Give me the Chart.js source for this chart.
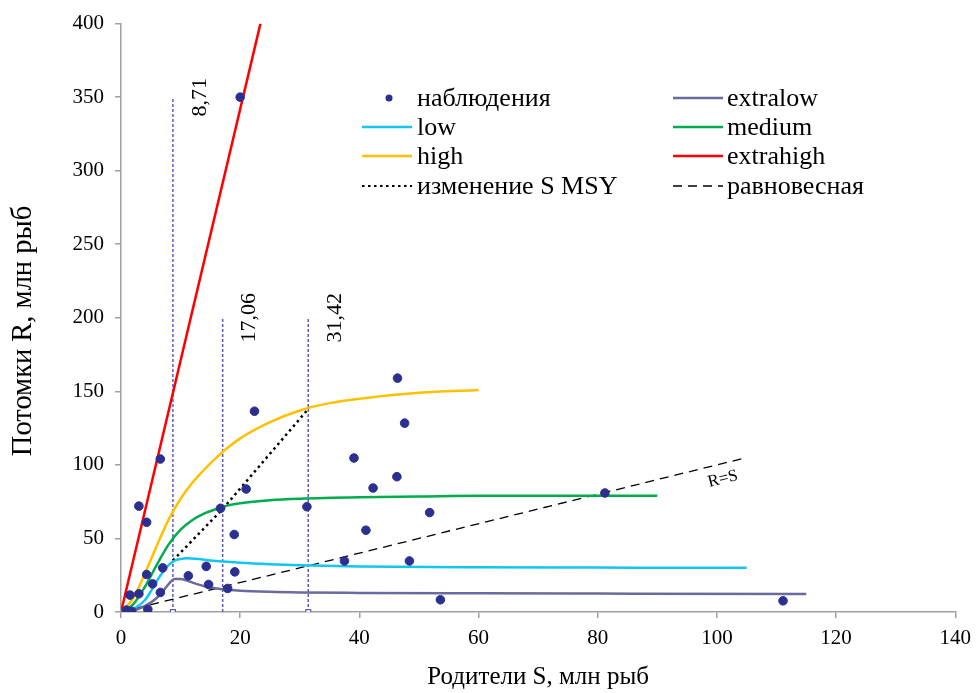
<!DOCTYPE html>
<html>
<head>
<meta charset="utf-8">
<script src="https://cdn.jsdelivr.net/npm/chart.js@4.4.0/dist/chart.umd.min.js"></script>
<style>
  html, body { margin: 0; padding: 0; background: #fff; }
  #wrap { width: 979px; height: 693px; position: relative; }
</style>
</head>
<body>
<div id="wrap"><canvas id="chart"></canvas></div>
<script>
// observations
const obsS = [20.0, 22.4, 6.6, 3.0, 4.3, 21.0, 16.7, 19.0, 4.3, 7.0, 5.3, 14.3, 11.3, 19.1, 14.7, 17.9, 6.6, 1.5, 3.0, 4.5, 0.9, 1.8,
  46.4, 47.6, 39.1, 46.3, 42.3, 31.2, 51.8, 41.1, 37.5, 48.4, 53.6, 81.2, 111.1];
const obsR = [350, 136.5, 104, 72, 61, 83.6, 70.5, 52.7, 25.5, 30, 19.1, 31, 24.6, 27.3, 18.7, 16, 13.3, 11.5, 12.4, 1.8, 1.3, 0.5,
  159, 128.4, 104.7, 92, 84.3, 71.6, 67.6, 55.6, 34.7, 34.7, 8.3, 80.9, 7.6];

// stock-recruitment curves
const extralowS = [0, 2, 4, 6, 7, 8, 9, 10, 11, 12, 14, 17, 20, 25, 30, 40, 60, 80, 115];
const extralowR = [0, 1, 4, 9.5, 14, 19, 22.5, 22.5, 21.5, 20, 17.5, 15.5, 14.5, 13.7, 13.3, 13, 12.7, 12.5, 12.2];
const lowS = [0, 2, 4, 5, 6, 7, 8, 9, 10, 11, 13, 15, 20, 25, 30, 40, 60, 80, 105];
const lowR = [0, 2, 8, 14, 21, 27, 32, 35, 36, 36.5, 36, 35, 33.5, 32.5, 31.8, 31, 30.4, 30.2, 30];
const mediumS = [0, 2, 4, 6, 8, 10, 12, 14, 16, 18, 20, 25, 30, 40, 50, 60, 70, 90];
const mediumR = [0, 5, 17, 32, 46, 56, 62.5, 67, 70, 72.5, 74, 76, 77, 78, 78.5, 79, 79, 79];
const highS = [0, 2, 4, 6, 8, 10, 12, 14, 16, 18, 20, 25, 30, 35, 40, 50, 60];
const highR = [0, 9, 26, 45, 63, 77, 88, 97, 105, 112, 118, 129, 137, 142, 145, 149, 151];
const extrahighS = [0, 23.4];
const extrahighR = [0, 400];

// S MSY
const msyS = [8.71, 17.06, 31.42];
const msyR = [35, 70, 138];
const msyTop = [350, 200, 200];
const msyLabels = ['8,71', '17,06', '31,42'];

// equilibrium R = S
const eqS = [0, 105];
const eqR = [0, 105];

const xTicks = [0, 20, 40, 60, 80, 100, 120, 140];
const yTicks = [0, 50, 100, 150, 200, 250, 300, 350, 400];

const pts = (xs, ys) => xs.map((x, i) => ({ x: x, y: ys[i] }));
const serif = "'Liberation Serif', 'Times New Roman', serif";

function curve(label, xs, ys, color, extra) {
  return Object.assign({
    label: label, data: pts(xs, ys), showLine: true, borderColor: color, backgroundColor: color,
    borderWidth: 2.5, pointRadius: 0, cubicInterpolationMode: 'monotone'
  }, extra || {});
}

const datasets = [
  { label: 'наблюдения', data: pts(obsS, obsR), backgroundColor: '#2b2f8f', borderColor: '#2b2f8f', pointRadius: 4.3, showLine: false },
  curve('extralow', extralowS, extralowR, '#6a6a9c'),
  curve('low', lowS, lowR, '#12c6f0'),
  curve('medium', mediumS, mediumR, '#00ad4c'),
  curve('high', highS, highR, '#ffc000'),
  curve('extrahigh', extrahighS, extrahighR, '#ff0000', { cubicInterpolationMode: 'default', tension: 0 }),
  curve('изменение S MSY', msyS, msyR, '#000', { cubicInterpolationMode: 'default', tension: 0, borderDash: [2.5, 3.5] }),
  curve('равновесная', eqS, eqR, '#000', { cubicInterpolationMode: 'default', tension: 0, borderWidth: 1.3, borderDash: [9, 6] })
];
msyS.forEach((s, i) => {
  datasets.push({
    label: 'msy' + i, data: [{ x: s, y: 0 }, { x: s, y: msyTop[i] }], showLine: true,
    borderColor: '#5b5bbb', borderWidth: 1.5, borderDash: [3, 2],
    pointRadius: i === 1 ? [0, 0] : [3.5, 0], pointStyle: 'rect', pointBackgroundColor: '#fff', pointBorderColor: '#5b5bbb', pointBorderWidth: 1.2
  });
});

const legendOrder = [0, 1, 2, 3, 4, 5, 6, 7];

const extrasPlugin = {
  id: 'extras',
  afterDatasetsDraw(chart) {
    const ctx = chart.ctx;
    const xs = chart.scales.x, ys = chart.scales.y;
    ctx.save();
    ctx.fillStyle = '#000';
    ctx.font = '22px ' + serif;
    ctx.textAlign = 'center';
    ctx.textBaseline = 'middle';
    msyS.forEach((s, i) => {
      ctx.save();
      ctx.translate(xs.getPixelForValue(s) + 27, ys.getPixelForValue(msyTop[i]));
      ctx.rotate(-Math.PI / 2);
      ctx.fillText(msyLabels[i], 0, 0);
      ctx.restore();
    });
    // R=S label
    const ang = Math.atan2(ys.getPixelForValue(0) - ys.getPixelForValue(1), xs.getPixelForValue(1) - xs.getPixelForValue(0));
    ctx.save();
    ctx.translate(xs.getPixelForValue(101), ys.getPixelForValue(101) + 15.5);
    ctx.rotate(-ang);
    ctx.font = '17px ' + serif;
    ctx.fillText('R=S', 0, 0);
    ctx.restore();

    // y axis title
    ctx.save();
    ctx.translate(24, 331);
    ctx.rotate(-Math.PI / 2);
    ctx.font = '28.5px ' + serif;
    ctx.fillText('Потомки R, млн рыб', 0, 0);
    ctx.restore();

    // legend, two columns
    const colLine = [362, 673], colText = [417, 727], rowY = [98, 127, 156, 186];
    ctx.font = '26px ' + serif;
    ctx.textAlign = 'left';
    legendOrder.forEach((di, k) => {
      const ds = chart.data.datasets[di];
      const c = k % 2, r = Math.floor(k / 2);
      const y = rowY[r];
      if (!ds.showLine) {
        ctx.fillStyle = ds.backgroundColor;
        ctx.beginPath();
        ctx.arc(colLine[c] + 27, y, 3.5, 0, Math.PI * 2);
        ctx.fill();
      } else {
        ctx.strokeStyle = ds.borderColor;
        ctx.lineWidth = ds.borderDash ? (ds.borderWidth < 2 ? 1.3 : 2) : 2.5;
        ctx.setLineDash(ds.borderDash || []);
        ctx.beginPath();
        ctx.moveTo(colLine[c], y);
        ctx.lineTo(colLine[c] + 50, y);
        ctx.stroke();
        ctx.setLineDash([]);
      }
      ctx.fillStyle = '#000';
      ctx.fillText(ds.label, colText[c], y + 1);
    });
    ctx.restore();
  }
};

const axisColor = '#a0a0a0';
new Chart(document.getElementById('chart'), {
  type: 'scatter',
  data: { datasets: datasets },
  options: {
    responsive: true,
    maintainAspectRatio: false,
    animation: false,
    layout: { padding: { left: 0, top: 20, right: 21, bottom: 0 } },
    plugins: { legend: { display: false }, tooltip: { enabled: false } },
    scales: {
      x: {
        type: 'linear', min: 0, max: 140,
        afterBuildTicks: (s) => { s.ticks = xTicks.map(v => ({ value: v })); },
        afterFit: (s) => { s.height = 81; },
        grid: { drawOnChartArea: false, drawTicks: true, tickLength: 6, color: axisColor, lineWidth: 1.5 },
        border: { color: axisColor, width: 1.5 },
        ticks: { color: '#000', font: { family: serif, size: 21 }, padding: 8, maxRotation: 0 },
        title: { display: true, text: 'Родители S, млн рыб', color: '#000', font: { family: serif, size: 25 }, padding: { top: 0, bottom: 1 } }
      },
      y: {
        type: 'linear', min: 0, max: 400,
        afterBuildTicks: (s) => { s.ticks = yTicks.map(v => ({ value: v })); },
        afterFit: (s) => { s.width = 121; },
        grid: { drawOnChartArea: false, drawTicks: true, tickLength: 6, color: axisColor, lineWidth: 1.5 },
        border: { color: axisColor, width: 1.5 },
        ticks: { color: '#000', font: { family: serif, size: 21 }, padding: 11 }
      }
    }
  },
  plugins: [extrasPlugin]
});
</script>
</body>
</html>
